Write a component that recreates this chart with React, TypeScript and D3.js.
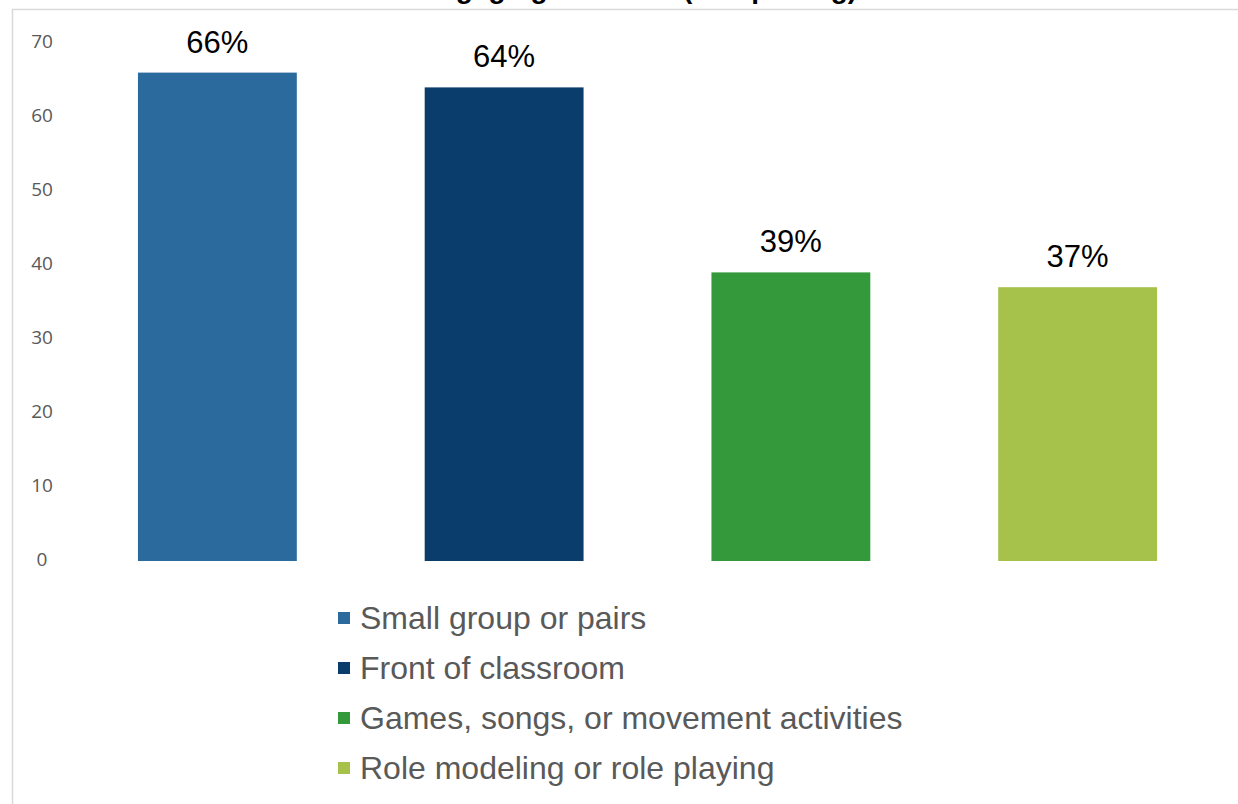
import React from "react";
import * as d3 from "d3";

const categories = ["Small group or pairs", "Front of classroom", "Games, songs, or movement activities", "Role modeling or role playing"];
const values = [66, 64, 39, 37];
const labels = ["66%", "64%", "39%", "37%"];
const colors = ["#2B6A9D", "#0A3C6C", "#33993A", "#A7C24B"];
const yTicks = [0, 10, 20, 30, 40, 50, 60, 70];
const title = "Methods of Engaging Students (% reporting)";

const W = 1238, H = 804;

export default function App() {
  const x = d3.scaleBand<string>().domain(categories).range([74, 1221]).paddingInner(0.446).paddingOuter(0.223);
  const y = d3.scaleLinear().domain([0, 70]).range([561, 43]);
  const legendY = d3.scalePoint<string>().domain(categories).range([618, 768]);

  return (
    <div style={{ position: "fixed", left: 0, top: 0 }}>
      <svg width={W} height={H} style={{ display: "block", fontFamily: "'Liberation Sans', Arial, sans-serif" }}>
        <rect x={0} y={0} width={W} height={H} fill="#fff" />
        <text x={560} y={-2} textAnchor="middle" fontSize={28} fontWeight="bold" fill="#000">{title}</text>
        <line x1={12} x2={W} y1={9.5} y2={9.5} stroke="#D9D9D9" strokeWidth={1.5} />
        <line x1={12.5} x2={12.5} y1={9} y2={H} stroke="#D9D9D9" strokeWidth={1.5} />
        {yTicks.map((t) => (
          <text key={t} x={42} y={y(t) - 2} dy="0.35em" textAnchor="middle" fontSize={19} fill="#595959" fontFamily="'Open Sans', sans-serif">{t}</text>
        ))}
        {categories.map((c, i) => (
          <g key={c}>
            <rect x={x(c)} y={y(values[i])} width={x.bandwidth()} height={y(0) - y(values[i])} fill={colors[i]} />
            <text x={(x(c) as number) + x.bandwidth() / 2} y={y(values[i]) - 20} textAnchor="middle" fontSize={31} fill="#000">{labels[i]}</text>
          </g>
        ))}
        {categories.map((c, i) => (
          <g key={"l" + c}>
            <rect x={338} y={(legendY(c) as number) - 6} width={12} height={12} fill={colors[i]} />
            <text x={360} y={legendY(c)} dy="0.35em" fontSize={32} fill="#595959">{c}</text>
          </g>
        ))}
      </svg>
    </div>
  );
}
